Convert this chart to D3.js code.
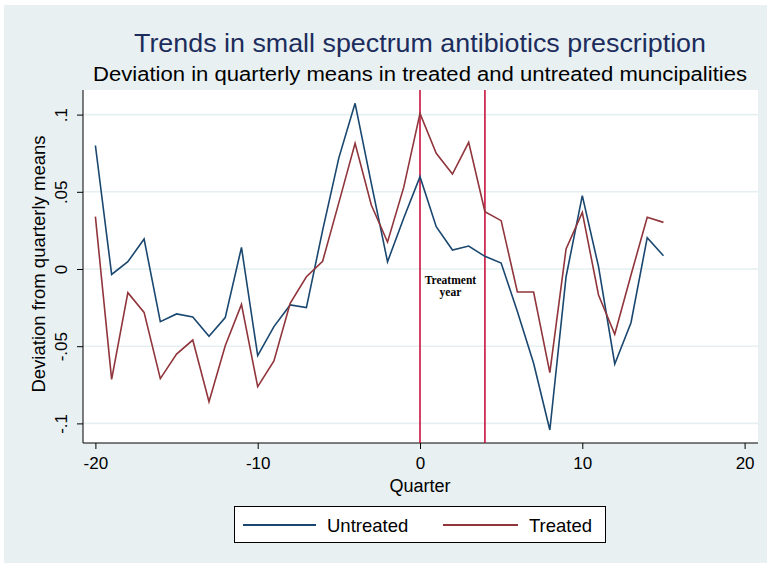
<!DOCTYPE html>
<html>
<head>
<meta charset="utf-8">
<script src="https://cdn.jsdelivr.net/npm/d3@7"></script>
<style>
  html, body { margin: 0; padding: 0; background: #ffffff; }
  svg { display: block; font-family: Arial, "Liberation Sans", sans-serif; }
</style>
</head>
<body>
<svg id="chart" width="767" height="563"></svg>
<script>
// ---- Data ----
const quarters = d3.range(-20, 16);
const untreated = [0.080, -0.0035, 0.0047, 0.0194, -0.0341, -0.0291, -0.0311, -0.0436, -0.0315, 0.0140,
  -0.0561, -0.0373, -0.0233, -0.0250, 0.025, 0.072, 0.1073, 0.0555, 0.0047, 0.033,
  0.0598, 0.0274, 0.0123, 0.0149, 0.0082, 0.0039, -0.0276, -0.0611, -0.1043, -0.0050,
  0.0475, 0.0015, -0.0615, -0.0348, 0.0203, 0.0086];
const treated = [0.0339, -0.0715, -0.0153, -0.0281, -0.0710, -0.0551, -0.0460, -0.0859, -0.0497, -0.0229,
  -0.0762, -0.0596, -0.0222, -0.0050, 0.0050, 0.043, 0.0814, 0.0414, 0.0175, 0.053,
  0.1008, 0.0749, 0.0615, 0.0820, 0.0371, 0.0313, -0.0149, -0.0149, -0.0671, 0.0130,
  0.0367, -0.0168, -0.0423, -0.0039, 0.0335, 0.0302];
const xTicks = [-20, -10, 0, 10, 20];
const yTicks = [-0.1, -0.05, 0, 0.05, 0.1];
const yTickLabels = ["-.1", "-.05", "0", ".05", ".1"];
const treatmentLines = [0, 4];
const seriesNames = ["Untreated", "Treated"];
const titleText = "Trends in small spectrum antibiotics prescription";
const subtitleText = "Deviation in quarterly means in treated and untreated muncipalities";
const xTitle = "Quarter";
const yTitle = "Deviation from quarterly means";
const annotation = ["Treatment", "year"];

// ---- Layout ----
const colors = { Untreated: "#1a476f", Treated: "#90353b" };
const plot = { left: 83, right: 758, top: 90, bottom: 443 };
const svg = d3.select("#chart");

svg.append("rect").attr("x", 0).attr("y", 0).attr("width", 767).attr("height", 563).attr("fill", "#ffffff");
svg.append("rect").attr("x", 4).attr("y", 5).attr("width", 763).attr("height", 558).attr("fill", "#e8f0f2");
svg.append("rect").attr("x", plot.left).attr("y", plot.top)
  .attr("width", plot.right - plot.left).attr("height", plot.bottom - plot.top).attr("fill", "#ffffff");

const x = d3.scaleLinear().domain([-20, 20]).range([95.4, 744.6]);
const y = d3.scaleLinear().domain([-0.1, 0.1]).range([423.4, 114.6]);

// gridlines
svg.append("g").selectAll("line").data(yTicks).join("line")
  .attr("x1", plot.left).attr("x2", plot.right)
  .attr("y1", d => y(d)).attr("y2", d => y(d))
  .attr("stroke", "#e6eff1").attr("stroke-width", 1.6);

// axes
const xAxis = d3.axisBottom(x).tickValues(xTicks).tickSize(6).tickPadding(8).tickFormat(d3.format("d"));
const gx = svg.append("g").attr("transform", `translate(0,${plot.bottom})`).call(xAxis);
gx.select(".domain").attr("d", `M${plot.left},0H${plot.right}`).attr("stroke", "#000");
gx.selectAll(".tick line").attr("stroke", "#000");
gx.selectAll(".tick text").attr("font-size", 17).attr("fill", "#000").attr("font-family", "Arial, 'Liberation Sans', sans-serif").text(d => d < 0 ? "-" + Math.abs(d) : d);

const yAxis = d3.axisLeft(y).tickValues(yTicks).tickSize(6).tickFormat((d, i) => yTickLabels[i]);
const gy = svg.append("g").attr("transform", `translate(${plot.left},0)`).call(yAxis);
gy.select(".domain").attr("d", `M0,${plot.top}V${plot.bottom}`).attr("stroke", "#000");
gy.selectAll(".tick line").attr("stroke", "#000");
gy.selectAll(".tick text")
  .attr("font-size", 17).attr("fill", "#000").attr("font-family", "Arial, 'Liberation Sans', sans-serif")
  .attr("x", null).attr("dy", null).attr("text-anchor", "middle")
  .attr("transform", "translate(-16,0) rotate(-90)");

// treatment lines
svg.append("g").selectAll("line").data(treatmentLines).join("line")
  .attr("x1", d => x(d)).attr("x2", d => x(d))
  .attr("y1", plot.top).attr("y2", plot.bottom)
  .attr("stroke", "#c8133f").attr("stroke-width", 1.6);

// annotation
const ann = svg.append("text").attr("x", x(2) - 2).attr("y", 284)
  .attr("text-anchor", "middle").attr("font-family", "'Liberation Serif', 'Times New Roman', serif")
  .attr("font-weight", "bold").attr("font-size", 11.5).attr("fill", "#000");
ann.selectAll("tspan").data(annotation).join("tspan")
  .attr("x", x(2) - 2).attr("dy", (d, i) => i === 0 ? 0 : 12).text(d => d);

// lines
const line = d3.line().x(d => x(d[0])).y(d => y(d[1]));
const series = [
  { name: "Untreated", values: quarters.map((q, i) => [q, untreated[i]]) },
  { name: "Treated", values: quarters.map((q, i) => [q, treated[i]]) }
];
svg.append("g").selectAll("path").data(series).join("path")
  .attr("d", d => line(d.values))
  .attr("fill", "none").attr("stroke", d => colors[d.name])
  .attr("stroke-width", 1.6).attr("stroke-linejoin", "miter");

// titles
svg.append("text").attr("x", 420).attr("y", 52).attr("text-anchor", "middle")
  .attr("font-size", 26).attr("fill", "#1c2c5c")
  .attr("textLength", 572).attr("lengthAdjust", "spacingAndGlyphs").text(titleText);
svg.append("text").attr("x", 420).attr("y", 81).attr("text-anchor", "middle")
  .attr("font-size", 20).attr("fill", "#000")
  .attr("textLength", 654).attr("lengthAdjust", "spacingAndGlyphs").text(subtitleText);

svg.append("text").attr("x", 420).attr("y", 492).attr("text-anchor", "middle")
  .attr("font-size", 18).attr("fill", "#000").text(xTitle);
svg.append("text").attr("transform", "translate(45,264) rotate(-90)").attr("text-anchor", "middle")
  .attr("font-size", 18.5).attr("fill", "#000").text(yTitle);

// legend
const lg = svg.append("g");
lg.append("rect").attr("x", 234.5).attr("y", 506.5).attr("width", 371).attr("height", 36)
  .attr("fill", "#fff").attr("stroke", "#000").attr("stroke-width", 1);
const legendItems = [
  { name: seriesNames[0], x0: 243, x1: 316, tx: 327 },
  { name: seriesNames[1], x0: 443, x1: 518, tx: 529 }
];
legendItems.forEach(it => {
  lg.append("line").attr("x1", it.x0).attr("x2", it.x1).attr("y1", 525).attr("y2", 525)
    .attr("stroke", colors[it.name]).attr("stroke-width", 1.8);
  lg.append("text").attr("x", it.tx).attr("y", 531.5).attr("font-size", 18.5).attr("fill", "#000").text(it.name);
});
</script>
</body>
</html>
